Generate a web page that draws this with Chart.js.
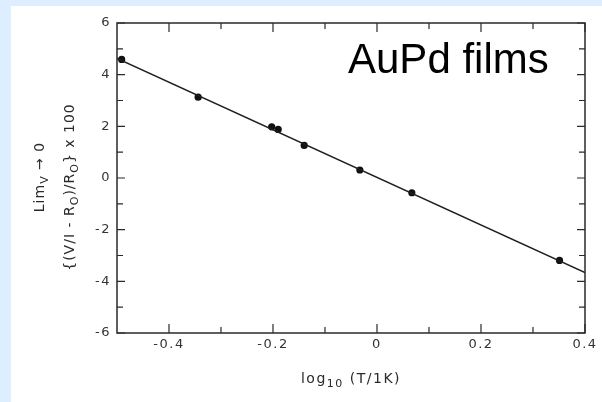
<!DOCTYPE html>
<html><head><meta charset="utf-8">
<script src="https://cdn.jsdelivr.net/npm/chart.js@4/dist/chart.umd.min.js"></script>
<style>html,body{margin:0;padding:0;background:#dceeff;overflow:hidden}
#wrap{position:absolute;left:0;top:0;width:602px;height:402px}
canvas{display:block}
</style></head><body><div id="wrap"><canvas id="c" width="602" height="402"></canvas></div>
<script>
// ---- data ----
const xValues = [-0.491, -0.344, -0.2025, -0.19, -0.140, -0.033, 0.067, 0.351];
const yValues = [4.59, 3.13, 1.98, 1.88, 1.26, 0.31, -0.57, -3.19];
const fitX = [-0.5, 0.4];
const fitY = [4.63, -3.66];
const xTickLabels = [-0.4, -0.2, 0, 0.2, 0.4];
const xMinorTicks = [-0.3, -0.1, 0.1, 0.3];
const yTickLabels = [6, 4, 2, 0, -2, -4, -6];
const yMinorTicks = [5, 3, 1, -1, -3, -5];
const annotationText = 'AuPd films';
const yTitleLine1 = [['Lim', 0], ['V', 1], [' \u2192 0', 0]];
const yTitleLine2 = [['{(V/I - R', 0], ['O', 1], [')/R', 0], ['O', 1], ['} x 100', 0]];
const xTitle = [['log', 0], ['10', 1], [' (T/1K)', 0]];

const FONT = '"DejaVu Sans", sans-serif';
const INK = '#2a2a2a';

function drawRich(ctx, segs, x, y, size, align) {
  const sub = Math.round(size * 0.75);
  let w = 0;
  const parts = segs.map(([t, s]) => {
    ctx.font = (s ? sub : size) + 'px ' + FONT;
    const m = ctx.measureText(t).width;
    w += m;
    return {t, s, m};
  });
  let cx = align === 'center' ? x - w / 2 : x;
  for (const p of parts) {
    ctx.font = (p.s ? sub : size) + 'px ' + FONT;
    ctx.fillText(p.t, cx, y + (p.s ? size * 0.35 : 0));
    cx += p.m;
  }
}

const decor = {
  id: 'decor',
  beforeDraw(chart) {
    const ctx = chart.ctx;
    ctx.save();
    ctx.fillStyle = '#dceeff';
    ctx.fillRect(0, 0, chart.width, chart.height);
    ctx.fillStyle = '#ffffff';
    ctx.fillRect(11, 6, chart.width - 11, chart.height - 6);
    ctx.restore();
    ctx.letterSpacing = '1.5px';
  },
  afterDraw(chart) {
    const ctx = chart.ctx;
    const {left, right, top, bottom} = chart.chartArea;
    const xs = chart.scales.x, ys = chart.scales.y;
    ctx.save();
    ctx.strokeStyle = INK;
    ctx.lineWidth = 1.5;
    ctx.strokeRect(left, top, right - left, bottom - top);
    ctx.lineWidth = 1.2;
    ctx.beginPath();
    const xt = (v, L) => {
      const p = xs.getPixelForValue(v);
      ctx.moveTo(p, bottom); ctx.lineTo(p, bottom - L);
      ctx.moveTo(p, top); ctx.lineTo(p, top + L);
    };
    const yt = (v, L) => {
      const p = ys.getPixelForValue(v);
      ctx.moveTo(left, p); ctx.lineTo(left + L, p);
      ctx.moveTo(right, p); ctx.lineTo(right - L, p);
    };
    xTickLabels.forEach(v => xt(v, 9));
    xMinorTicks.forEach(v => xt(v, 6));
    yTickLabels.forEach(v => yt(v, 8));
    yMinorTicks.forEach(v => yt(v, 6));
    ctx.stroke();

    ctx.fillStyle = INK;
    ctx.textBaseline = 'middle';
    ctx.textAlign = 'left';
    // x title
    ctx.letterSpacing = '1.5px';
    drawRich(ctx, xTitle, (left + right) / 2, 379, 14, 'center');
    // y titles (rotated)
    ctx.letterSpacing = '1px';
    ctx.save();
    ctx.translate(40, 177);
    ctx.rotate(-Math.PI / 2);
    drawRich(ctx, yTitleLine1, 0, 0, 14, 'center');
    ctx.restore();
    ctx.save();
    ctx.translate(70, 187);
    ctx.rotate(-Math.PI / 2);
    drawRich(ctx, yTitleLine2, 0, 0, 14, 'center');
    ctx.restore();

    // annotation
    ctx.letterSpacing = '0px';
    ctx.fillStyle = '#000';
    ctx.textBaseline = 'alphabetic';
    ctx.font = '42px "Liberation Sans", Arial, sans-serif';
    ctx.fillText(annotationText, 348, 73);
    ctx.restore();
    ctx.letterSpacing = '0px';
  }
};

new Chart(document.getElementById('c'), {
  type: 'scatter',
  data: {
    datasets: [
      {
        label: 'fit',
        data: fitX.map((x, i) => ({x, y: fitY[i]})),
        showLine: true,
        borderColor: '#1e1e1e',
        borderWidth: 1.5,
        pointRadius: 0,
        fill: false
      },
      {
        label: 'AuPd',
        data: xValues.map((x, i) => ({x, y: yValues[i]})),
        pointRadius: 3.6,
        pointBackgroundColor: '#111',
        pointBorderColor: '#111',
        borderWidth: 0
      }
    ]
  },
  options: {
    responsive: false,
    devicePixelRatio: 1,
    animation: false,
    layout: {padding: {left: 0, top: 23, right: 17, bottom: 0}},
    plugins: {legend: {display: false}, tooltip: {enabled: false}},
    scales: {
      x: {
        type: 'linear', min: -0.5, max: 0.4,
        grid: {display: false, drawTicks: false},
        border: {display: false},
        afterBuildTicks: s => { s.ticks = xTickLabels.map(v => ({value: v})); },
        afterFit: s => { s.height = 69; },
        ticks: {
          padding: 4, color: '#333', font: {family: '"DejaVu Sans"', size: 13},
          maxRotation: 0, autoSkip: false,
          callback: v => String(Math.round(v * 10) / 10)
        }
      },
      y: {
        type: 'linear', min: -6, max: 6,
        grid: {display: false, drawTicks: false},
        border: {display: false},
        afterBuildTicks: s => { s.ticks = yTickLabels.map(v => ({value: v})); },
        afterFit: s => { s.width = 117; },
        ticks: {
          padding: 6, color: '#333', font: {family: '"DejaVu Sans"', size: 13},
          autoSkip: false,
          callback: v => String(v)
        }
      }
    }
  },
  plugins: [decor]
});
</script></body></html>
